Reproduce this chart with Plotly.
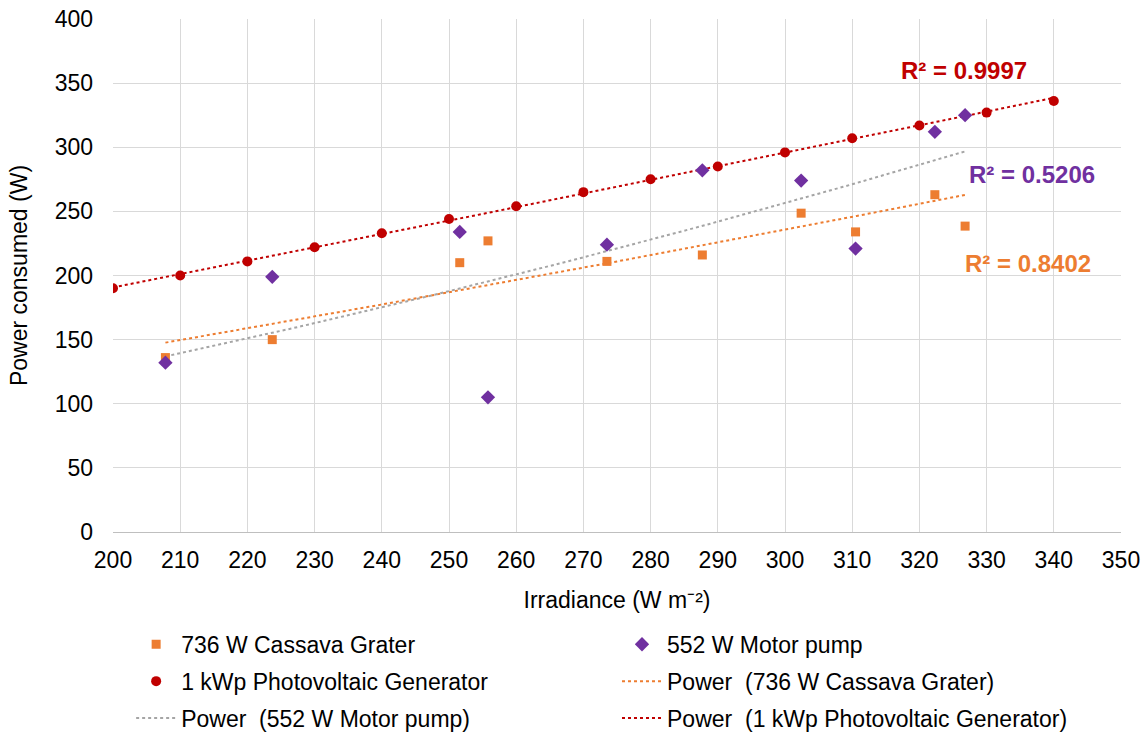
import numpy as np
import plotly.graph_objects as go

# ---- data ----
pv_irr = [200, 210, 220, 230, 240, 250, 260, 270, 280, 290, 300, 310, 320, 330, 340]
pv_power = [190, 200, 211, 222, 233, 244, 254, 265, 275, 285, 296, 307, 317, 327, 336]

dev_irr = [207.8, 223.7, 251.6, 255.8, 273.5, 287.7, 302.4, 310.5, 322.3, 326.8]
grater_power = [136, 150, 210, 227, 211, 216, 248.6, 234, 263, 238.5]
pump_power = [132, 199, 234, 105, 224, 282, 274, 221, 312, 325]

r2_labels = ["R² = 0.9997", "R² = 0.5206", "R² = 0.8402"]

ORANGE = "#ED7D31"
PURPLE = "#7030A0"
RED = "#C00000"
GRAY = "#A5A5A5"
FONT = "Liberation Sans, Arial, sans-serif"
FS = 23


def power_fit(x, y):
    x = np.asarray(x, float)
    y = np.asarray(y, float)
    b, lna = np.polyfit(np.log(x), np.log(y), 1)
    xs = np.linspace(x.min(), x.max(), 60)
    return xs, np.exp(lna) * xs ** b


fig = go.Figure()

gx, gy = power_fit(dev_irr, grater_power)
px_, py_ = power_fit(dev_irr, pump_power)
rx, ry = power_fit(pv_irr, pv_power)

NAME_SP = "Power\u00a0 "

fig.add_trace(go.Scatter(x=gx, y=gy, mode="lines", name=NAME_SP + "(736 W Cassava Grater)",
                         line=dict(color=ORANGE, width=2, dash="dot"),
                         legend="legend2", legendrank=2, legendgroup="g4"))
fig.add_trace(go.Scatter(x=px_, y=py_, mode="lines", name=NAME_SP + "(552 W Motor pump)",
                         line=dict(color=GRAY, width=2, dash="dot"),
                         legend="legend", legendrank=3, legendgroup="g5"))
fig.add_trace(go.Scatter(x=rx, y=ry, mode="lines", name=NAME_SP + "(1 kWp Photovoltaic Generator)",
                         line=dict(color=RED, width=2, dash="dot"),
                         legend="legend2", legendrank=3, legendgroup="g6"))

fig.add_trace(go.Scatter(x=dev_irr, y=grater_power, mode="markers", name="736 W Cassava Grater",
                         marker=dict(symbol="square", size=9, color=ORANGE),
                         legend="legend", legendrank=1, legendgroup="g1"))
fig.add_trace(go.Scatter(x=dev_irr, y=pump_power, mode="markers", name="552 W Motor pump",
                         marker=dict(symbol="diamond", size=11, color=PURPLE),
                         legend="legend2", legendrank=1, legendgroup="g2"))
fig.add_trace(go.Scatter(x=pv_irr, y=pv_power, mode="markers", name="1 kWp Photovoltaic Generator",
                         marker=dict(symbol="circle", size=10, color=RED),
                         legend="legend", legendrank=2, legendgroup="g3"))

ann_pos = [(326.6, 359.6, RED), (336.8, 278.5, PURPLE), (336.2, 209, ORANGE)]
for txt, (ax, ay, col) in zip(r2_labels, ann_pos):
    fig.add_annotation(x=ax, y=ay, xref="x", yref="y", text="<b>" + txt + "</b>",
                       showarrow=False, font=dict(family=FONT, size=24, color=col))

leg_common = dict(orientation="v", yanchor="top", xanchor="left",
                  font=dict(family=FONT, size=FS, color="#000000"),
                  tracegroupgap=4, bgcolor="rgba(0,0,0,0)", itemwidth=40)

fig.update_layout(
    width=1146, height=735,
    margin=dict(l=113, r=25, t=19, b=203, autoexpand=False),
    plot_bgcolor="white", paper_bgcolor="white",
    font=dict(family=FONT, size=FS, color="#000000"),
    showlegend=True,
    legend=dict(x=0.018, y=-0.177, **leg_common),
    legend2=dict(x=0.5, y=-0.177, **leg_common),
    xaxis=dict(range=[200, 350], tickmode="linear", tick0=200, dtick=10,
               showgrid=True, gridcolor="#D9D9D9", gridwidth=1,
               showline=True, linecolor="#BFBFBF", linewidth=1, zeroline=False,
               ticks="", ticklabelstandoff=7,
               tickfont=dict(family=FONT, size=FS, color="#000000"),
               title=dict(text="Irradiance (W m⁻²)", standoff=20,
                          font=dict(family=FONT, size=FS, color="#000000"))),
    yaxis=dict(range=[0, 400], tickmode="linear", tick0=0, dtick=50,
               showgrid=True, gridcolor="#D9D9D9", gridwidth=1,
               showline=False, zeroline=False, ticks="", ticklabelstandoff=19,
               tickfont=dict(family=FONT, size=FS, color="#000000"),
               title=dict(text="Power consumed (W)", standoff=20,
                          font=dict(family=FONT, size=FS, color="#000000"))),
)

fig.write_html("out.html")
